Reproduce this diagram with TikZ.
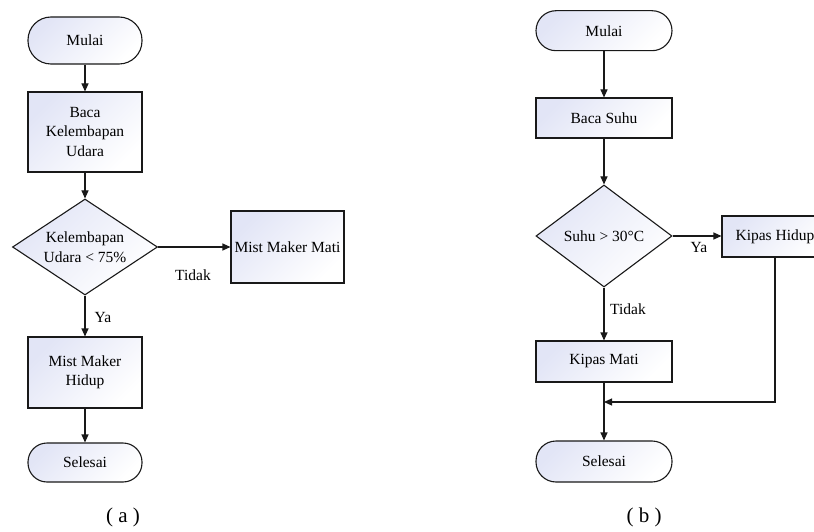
\documentclass[tikz,border=0pt]{standalone}
\usepackage{fontspec}
\setmainfont{Liberation Serif}
\definecolor{boxfill}{RGB}{226,229,246}
\definecolor{linegray}{RGB}{25,25,25}
\usepackage{tikz}
\usetikzlibrary{shapes.geometric,arrows.meta}

\begin{document}
\begin{tikzpicture}[x=1pt, y=-1pt,
    font=\fontsize{15.5}{19.5}\selectfont,
    shadefill/.style={draw=linegray, line width=1.1pt, top color=boxfill, bottom color=white, shading angle=45},
    termnode/.style={shadefill, rectangle, inner sep=1pt, align=center},
    procnode/.style={shadefill, rectangle, inner sep=1pt, align=center},
    decnode/.style={shadefill, diamond, aspect=1.5, inner sep=0pt, align=center},
    lbl/.style={inner sep=0pt},
    capnode/.style={inner sep=0pt, font=\fontsize{21}{24}\selectfont},
    arr/.style={draw=linegray, line width=1.1pt, -{Triangle[length=8pt,width=7pt]}}]
        \clip (0,0) rectangle (814,532);
        % (a) kelembapan
        \node[termnode, minimum width=114, minimum height=47, rounded corners=23pt] (startA) at (85,40.5) {Mulai};
        \node[procnode, minimum width=114, minimum height=80] (readA) at (85,132) {Baca\\Kelembapan\\Udara};
        \node[decnode, minimum width=145, minimum height=96] (decA) at (85,247) {Kelembapan\\Udara < 75\%};
        \node[procnode, minimum width=113, minimum height=72] (offA) at (287.5,247) {Mist Maker Mati};
        \node[procnode, minimum width=114, minimum height=71] (onA) at (85,372.5) {Mist Maker\\Hidup};
        \node[termnode, minimum width=114, minimum height=39, rounded corners=19pt] (endA) at (85,462.5) {Selesai};
        \node[lbl] (tidakA) at (193,275) {Tidak};
        \node[lbl] (yaA) at (103,317) {Ya};
        \node[capnode] (capA) at (123,517) {( a )};
        \draw[arr] (startA) -- (readA);
        \draw[arr] (readA) -- (decA);
        \draw[arr] (decA.east) -- (offA.west);
        \draw[arr] (decA.south) -- (onA.north);
        \draw[arr] (onA) -- (endA);
        % (b) suhu
        \node[termnode, minimum width=136, minimum height=40, rounded corners=20pt] (startB) at (604,30.7) {Mulai};
        \node[procnode, minimum width=136, minimum height=40] (readB) at (604,118) {Baca Suhu};
        \node[decnode, minimum width=136, minimum height=102] (decB) at (604,236) {Suhu > 30°C};
        \node[procnode, minimum width=106, minimum height=41] (onB) at (775,236.5) {Kipas Hidup};
        \node[procnode, minimum width=136, minimum height=41] (offB) at (604,361.5) {Kipas Mati};
        \node[termnode, minimum width=136, minimum height=41, rounded corners=20pt] (endB) at (604,461.5) {Selesai};
        \coordinate (mergeB) at (604,402);
        \node[lbl] (yaB) at (699,248) {Ya};
        \node[lbl] (tidakB) at (628,309) {Tidak};
        \node[capnode] (capB) at (644,517) {( b )};
        \draw[arr] (startB) -- (readB);
        \draw[arr] (readB) -- (decB);
        \draw[arr] (decB.east) -- (onB.west |- decB.east);
        \draw[arr] (decB.south) -- (offB.north);
        \draw[arr] (offB) -- (endB);
        \draw[arr] (onB.south) |- (mergeB);
\end{tikzpicture}
\end{document}
